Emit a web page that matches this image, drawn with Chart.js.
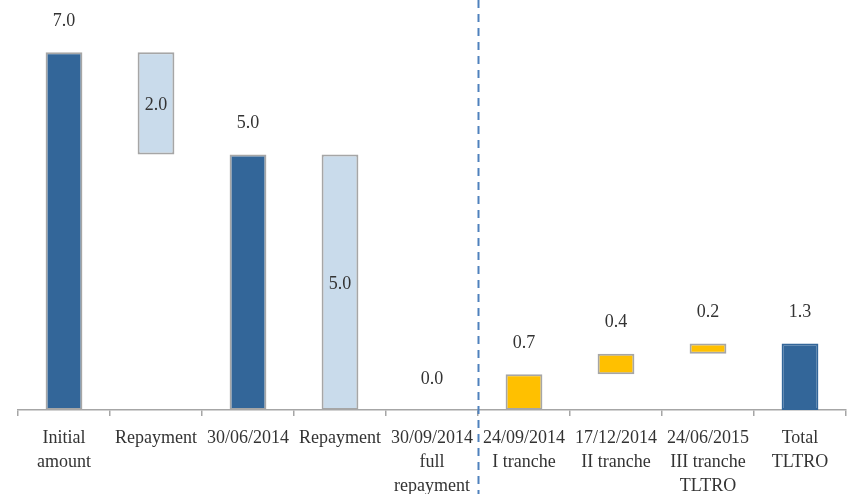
<!DOCTYPE html>
<html>
<head>
<meta charset="utf-8">
<script src="https://cdn.jsdelivr.net/npm/chart.js@4.4.0/dist/chart.umd.min.js"></script>
<style>
  html, body { margin: 0; padding: 0; background: #fff; }
  #wrap { width: 849px; height: 494px; }
</style>
</head>
<body>
<div id="wrap"><canvas id="tltro"></canvas></div>
<script>
var categories = [
  ["Initial", "amount"],
  ["Repayment"],
  ["30/06/2014"],
  ["Repayment"],
  ["30/09/2014", "full", "repayment"],
  ["24/09/2014", "I tranche"],
  ["17/12/2014", "II tranche"],
  ["24/06/2015", "III tranche", "TLTRO"],
  ["Total", "TLTRO"]
];
// floating bars: start / end of each step
var barStart = [0, 5, 0, 0, 0, 0, 0.7, 1.1, 0];
var barEnd   = [7, 7, 5, 5, 0, 0.7, 1.1, 1.3, 1.3];
var shownValues = [7.0, 2.0, 5.0, 5.0, 0.0, 0.7, 0.4, 0.2, 1.3];
var kinds = ["total", "repay", "total", "repay", "total", "tranche", "tranche", "tranche", "total"];

var fills = { total: "#336699", repay: "#c9dbeb", tranche: "#ffc000" };

var barData = [];
for (var i = 0; i < barStart.length; i++) {
  barData.push([barStart[i], barEnd[i]]);
}

var labelPlugin = {
  id: "labels",
  afterDatasetsDraw: function(chart) {
    var ctx = chart.ctx;
    var yScale = chart.scales.y;
    var meta = chart.getDatasetMeta(0);
    ctx.save();
    ctx.font = "18px 'Liberation Serif'";
    ctx.fillStyle = "#333333";
    ctx.textAlign = "center";
    ctx.textBaseline = "middle";
    for (var i = 0; i < meta.data.length; i++) {
      var x = meta.data[i].x;
      var top = yScale.getPixelForValue(barEnd[i]);
      var bottom = yScale.getPixelForValue(barStart[i]);
      var y = kinds[i] === "repay" ? (top + bottom) / 2 + 2 : top - 31;
      ctx.fillText(shownValues[i].toFixed(1), x, y);
    }
    ctx.restore();
  },
  afterDraw: function(chart) {
    // dashed separator between old LTRO and TLTRO
    var ctx = chart.ctx;
    var xScale = chart.scales.x;
    var xs = (xScale.getPixelForValue(4) + xScale.getPixelForValue(5)) / 2;
    ctx.save();
    ctx.strokeStyle = "#4f81bd";
    ctx.lineWidth = 2;
    ctx.setLineDash([8, 6]);
    ctx.beginPath();
    ctx.moveTo(Math.round(xs) + 0.5, 0);
    ctx.lineTo(Math.round(xs) + 0.5, chart.height);
    ctx.stroke();
    ctx.restore();
  }
};

var ctx = document.getElementById("tltro").getContext("2d");
var chart = new Chart(ctx, {
  type: "bar",
  data: {
    labels: categories,
    datasets: [{
      data: barData,
      backgroundColor: kinds.map(function(k) { return fills[k]; }),
      borderColor: kinds.map(function(k, i) { return i === 8 ? "#336699" : "#a6a6a6"; }),
      borderWidth: barStart.map(function(s, i) { return barEnd[i] === s ? 0 : 2; }),
      borderSkipped: false,
      barPercentage: 0.4,
      categoryPercentage: 1.0
    }]
  },
  options: {
    responsive: true,
    maintainAspectRatio: false,
    animation: false,
    layout: { padding: { left: 18, right: 3, top: 1, bottom: 0 } },
    plugins: {
      legend: { display: false },
      tooltip: { enabled: false }
    },
    scales: {
      x: {
        grid: {
          offset: true,
          drawOnChartArea: false,
          drawTicks: true,
          tickLength: 6,
          color: "#a6a6a6",
          lineWidth: 1.5
        },
        border: { display: true, color: "#a6a6a6", width: 1.5 },
        ticks: {
          color: "#333333",
          padding: 10,
          maxRotation: 0,
          autoSkip: false,
          font: { family: "'Liberation Serif'", size: 18, lineHeight: 1.33 }
        },
        afterFit: function(scale) { scale.height = 84; }
      },
      y: {
        display: false,
        min: 0,
        max: 8
      }
    }
  },
  plugins: [labelPlugin]
});
</script>
</body>
</html>
